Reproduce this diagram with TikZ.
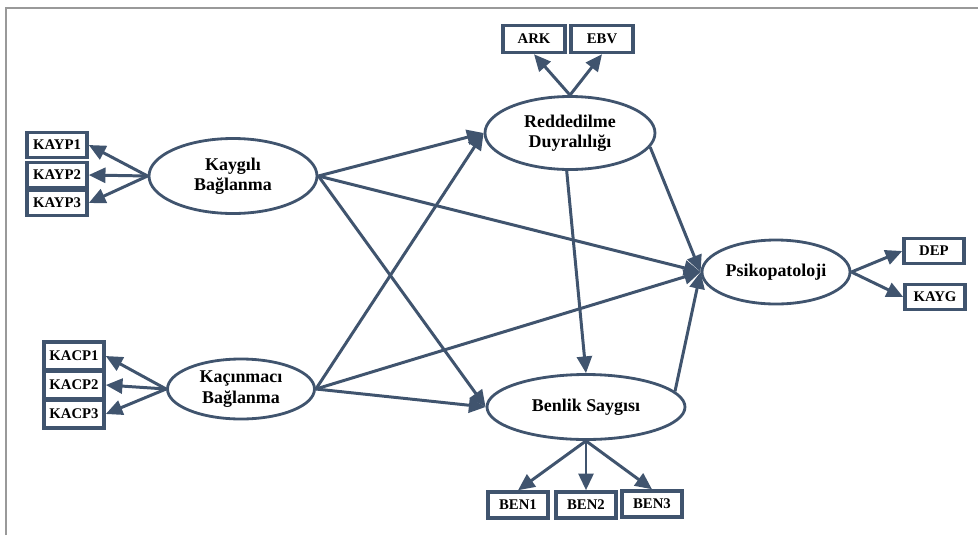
\documentclass[tikz,border=0pt]{standalone}
\usepackage{fontspec}
\setmainfont{Liberation Serif}
\usetikzlibrary{shapes.geometric,arrows.meta}
\definecolor{semblue}{RGB}{64,84,110}
\tikzset{
  latent/.style={ellipse,draw=semblue,line width=1.6pt,inner sep=0pt,align=center,
    font=\bfseries\fontsize{10.2}{11.5}\selectfont},
  indicator/.style={rectangle,draw=semblue,line width=2pt,inner sep=0pt,
    minimum width=1.2cm,minimum height=0.5cm,font=\bfseries\fontsize{8.4}{9}\selectfont},
  effect/.style={draw=semblue,line width=1.7pt,-{Triangle[length=9.5pt,width=8.5pt]}}
}
\begin{document}
\begin{tikzpicture}
    \useasboundingbox (0,0) rectangle (19.56,-10.7);
    \draw[gray!80,line width=1.1pt] (0.12,-10.7) -- (0.12,-0.16) -- (19.56,-0.16);
    \node[latent,minimum width=3.36cm,minimum height=1.5cm] (Kaygili) at (4.66,-3.52) {Kaygılı\\Bağlanma};
    \node[latent,minimum width=3.4cm,minimum height=1.46cm] (Redd) at (11.4,-2.66) {Reddedilme\\Duyralılığı};
    \node[latent,minimum width=2.96cm,minimum height=1.28cm] (Psiko) at (15.52,-5.44) {Psikopatoloji};
    \node[latent,minimum width=2.94cm,minimum height=1.2cm] (Kacin) at (4.82,-7.78) {Kaçınmacı\\Bağlanma};
    \node[latent,minimum width=3.96cm,minimum height=1.3cm] (Benlik) at (11.72,-8.14) {Benlik Saygısı};
    \node[indicator] (KAYP1) at (1.14,-2.9) {KAYP1};
    \node[indicator] (KAYP2) at (1.14,-3.5) {KAYP2};
    \node[indicator] (KAYP3) at (1.14,-4.06) {KAYP3};
    \node[indicator,minimum height=0.56cm] (KACP1) at (1.48,-7.12) {KACP1};
    \node[indicator,minimum height=0.56cm] (KACP2) at (1.48,-7.7) {KACP2};
    \node[indicator,minimum height=0.56cm] (KACP3) at (1.48,-8.28) {KACP3};
    \node[indicator,minimum width=1.24cm,minimum height=0.54cm] (ARK) at (10.68,-0.78) {ARK};
    \node[indicator,minimum width=1.24cm,minimum height=0.54cm] (EBV) at (12.04,-0.78) {EBV};
    \node[indicator] (DEP) at (18.68,-5.02) {DEP};
    \node[indicator] (KAYG) at (18.7,-5.94) {KAYG};
    \node[indicator,minimum height=0.52cm] (BEN1) at (10.36,-10.1) {BEN1};
    \node[indicator,minimum height=0.52cm] (BEN2) at (11.72,-10.1) {BEN2};
    \node[indicator,minimum height=0.52cm] (BEN3) at (13.04,-10.08) {BEN3};
    \draw[effect] (Kaygili.west) -- (KAYP1.east);
    \draw[effect] (Kaygili.west) -- (KAYP2.east);
    \draw[effect] (Kaygili.west) -- (KAYP3.east);
    \draw[effect] (Kacin.west) -- (KACP1.east);
    \draw[effect] (Kacin.west) -- (KACP2.east);
    \draw[effect] (Kacin.west) -- (KACP3.east);
    \draw[effect] (Redd.north) -- (ARK.south);
    \draw[effect] (Redd.north) -- (EBV.south);
    \draw[effect] (Psiko.east) -- (DEP.west);
    \draw[effect] (Psiko.east) -- (KAYG.west);
    \draw[effect] (Benlik.south) -- (BEN1.north);
    \draw[effect] (Benlik.south) -- (BEN2.north);
    \draw[effect] (Benlik.south) -- (BEN3.north);
    \draw[effect] (Kaygili.east) -- (Redd.west);
    \draw[effect] (Kaygili.east) -- (Psiko.west);
    \draw[effect] (Kaygili.east) -- (Benlik.west);
    \draw[effect] (Kacin.east) -- (Redd.west);
    \draw[effect] (Kacin.east) -- (Psiko.west);
    \draw[effect] (Kacin.east) -- (Benlik.west);
    \draw[effect] (Redd.-95) -- (Benlik.north);
    \draw[effect] (Redd.-10) -- (Psiko.west);
    \draw[effect] (Benlik.10) -- (Psiko.west);
\end{tikzpicture}
\end{document}
